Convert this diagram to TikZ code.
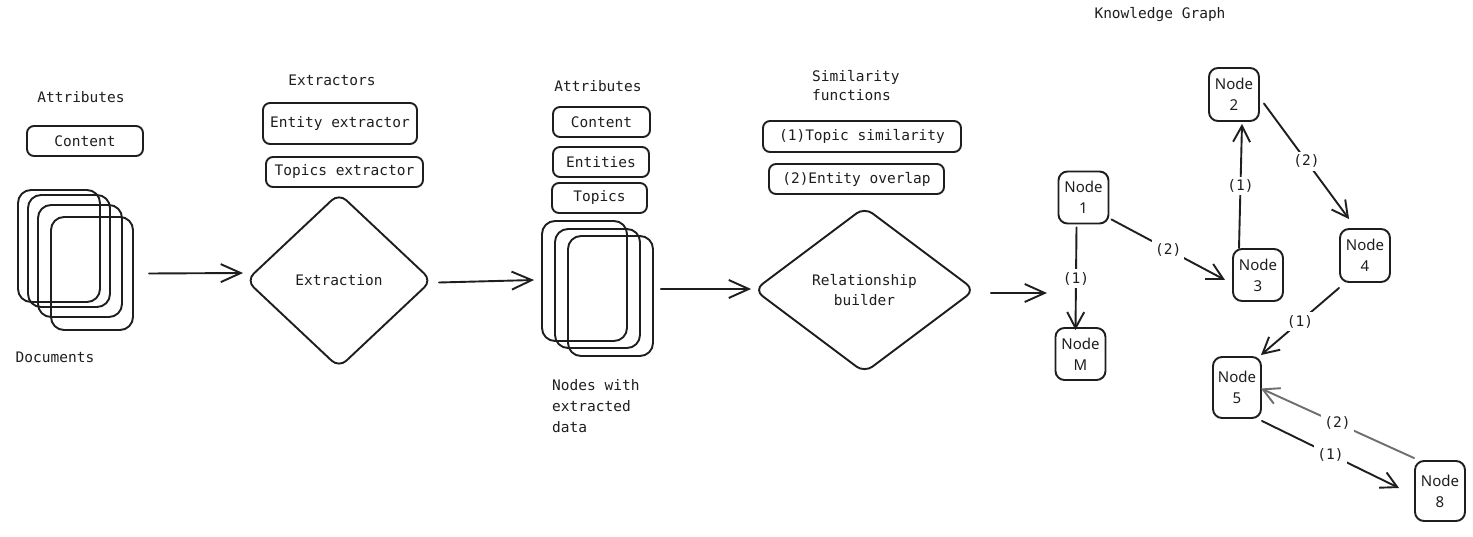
\documentclass[tikz,border=0pt]{standalone}
\usepackage{fontspec}
\setmonofont{DejaVu Sans Mono}
\newfontfamily\gnodefont{Noto Sans}
\usetikzlibrary{arrows.meta,shapes.geometric,calc}
\definecolor{ink}{HTML}{1E1E1E}
\definecolor{greyink}{HTML}{6E6E6E}
\begin{document}
\begin{tikzpicture}[x=1pt,y=-1pt,
  every node/.style={font=\ttfamily\fontsize{14.5}{20}\selectfont, text=ink},
  box/.style={draw=ink, line width=1.9pt, rounded corners=7pt, inner sep=0pt},
  stackbox/.style={draw=ink, line width=1.9pt, rounded corners=13pt, inner sep=0pt},
  gnode/.style={draw=ink, line width=1.9pt, rounded corners=9pt, inner sep=0pt, minimum width=50, minimum height=52, align=center, font=\gnodefont\fontsize{15}{21}\selectfont},
  decision/.style={diamond, draw=ink, line width=1.9pt, rounded corners=10pt, inner sep=0pt, align=center},
  arr/.style={-{Straight Barb[length=20pt,width=18pt]}, line width=1.9pt, draw=ink, line cap=round},
  gedge/.style={-{Straight Barb[length=16pt,width=17pt]}, line width=1.9pt, draw=ink, line cap=round},
  lab/.style={fill=white, inner sep=3pt, font=\ttfamily\fontsize{14.5}{16}\selectfont}
]
\useasboundingbox[fill=white] (0,0) rectangle (1473,537);

% ---- Documents ----
\node (attr1) at (81,97) {Attributes};
\node[box, minimum width=116, minimum height=30] (content1) at (85,141) {Content};
\node[stackbox, minimum width=82, minimum height=112] (doc1) at (59,246) {};
\node[stackbox, minimum width=82, minimum height=112] (doc2) at (69,251) {};
\node[stackbox, minimum width=84, minimum height=112] (doc3) at (80,261) {};
\node[stackbox, minimum width=82, minimum height=113] (doc4) at (92,273.5) {};
\node (doclab) at (55,357) {Documents};

% ---- Extraction ----
\node (extrlab) at (332,80) {Extractors};
\node[box, minimum width=154, minimum height=41] (entext) at (340,123.5) {Entity extractor};
\node[box, minimum width=157, minimum height=30] (topext) at (344.5,172) {Topics extractor};
\node[decision, minimum width=186, minimum height=175] (extract) at (339,280.5) {Extraction};

% ---- Nodes with extracted data ----
\node (attr2) at (598,86) {Attributes};
\node[box, minimum width=97, minimum height=30] (content2) at (601.5,122) {Content};
\node[box, minimum width=96, minimum height=30] (entities) at (601,162) {Entities};
\node[box, minimum width=95, minimum height=30] (topics) at (599.5,198) {Topics};
\node[stackbox, minimum width=85, minimum height=120] (nd1) at (584.5,281) {};
\node[stackbox, minimum width=85, minimum height=119] (nd2) at (597.5,288.5) {};
\node[stackbox, minimum width=85, minimum height=120] (nd3) at (610.5,296) {};
\node[anchor=north west, align=left, font=\ttfamily\fontsize{14.5}{21}\selectfont, inner sep=0pt] (ndlab) at (552,379) {Nodes with\\extracted\\data};

% ---- Relationship builder ----
\node[anchor=north west, align=left, font=\ttfamily\fontsize{14.5}{19.5}\selectfont, inner sep=0pt] (simlab) at (812,70) {Similarity\\functions};
\node[box, minimum width=198, minimum height=31] (topsim) at (862,136.5) {(1)Topic similarity};
\node[box, minimum width=175, minimum height=30] (entov) at (856.5,179) {(2)Entity overlap};
\node[decision, minimum width=221, minimum height=166] (rel) at (864.5,290) {Relationship\\builder};

% ---- main flow ----
\draw[arr] ([xshift=15pt]doc4.east) -- ([xshift=-2pt,yshift=7.5pt]extract.west);
\draw[arr] ([xshift=6pt,yshift=-2pt]extract.east) -- ([xshift=-7pt,yshift=1pt]nd1.west);
\draw[arr] ([xshift=7pt,yshift=7pt]nd3.east) -- ([xshift=-2pt,yshift=1pt]rel.west);
\coordinate (kgin) at (1047,293);
\draw[arr] ([xshift=15pt,yshift=-3pt]rel.east) -- (kgin);

% ---- Knowledge graph ----
\node (kglab) at (1160,15) {Knowledge Graph};
\node[gnode] (n1) at (1083.5,197.5) {Node\\1};
\node[gnode, minimum height=53] (n2) at (1234,94.5) {Node\\2};
\node[gnode] (n3) at (1258,275) {Node\\3};
\node[gnode, minimum height=53] (n4) at (1365,255.5) {Node\\4};
\node[gnode] (nm) at (1080.5,354) {Node\\M};
\node[gnode, minimum width=48, minimum height=61] (n5) at (1237,387.5) {Node\\5};
\node[gnode, minimum height=60] (n8) at (1440,491) {Node\\8};

\draw[gedge] ([xshift=-7pt,yshift=-3pt]n1.south) -- node[lab]{(1)} ([xshift=-5pt,yshift=-3pt]nm.north);
\draw[gedge] ($(n1.south east)+(2,-5)$) -- node[lab]{(2)} ([xshift=-7pt,yshift=-5pt]n3.west);
\draw[gedge] ([xshift=-19pt,yshift=0pt]n3.north) -- node[lab]{(1)} ([xshift=8pt,yshift=-2pt]n2.south);
\draw[gedge] ($(n2.east)+(4,9)$) -- node[lab]{(2)} ($(n4.north west)+(10,-9)$);
\draw[gedge] ($(n4.south west)+(0,5)$) -- node[lab]{(1)} ($(n5.north east)+(-1,-1)$);
\draw[gedge, draw=greyink] ($(n8.north west)+(0,-2)$) -- node[lab]{(2)} ($(n5.east)+(-1,1)$);
\draw[gedge] ($(n5.south east)+(0,2)$) -- node[lab]{(1)} ($(n8.west)+(-15,-3)$);
\end{tikzpicture}
\end{document}
